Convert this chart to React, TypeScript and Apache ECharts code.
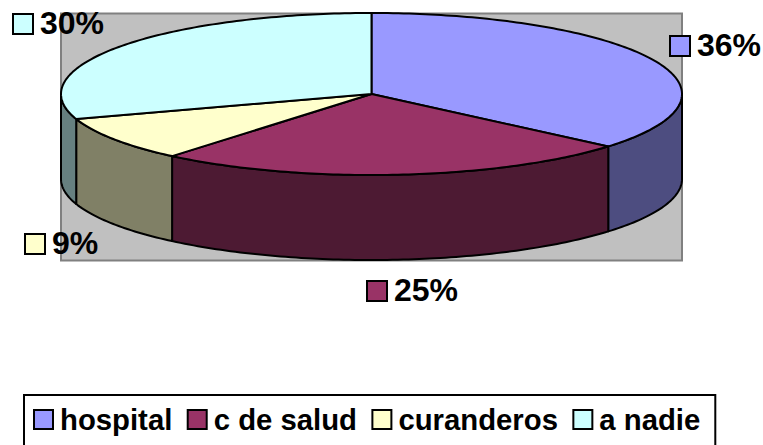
import React, { useEffect, useRef } from "react";
import * as echarts from "echarts";

const categories = ["hospital", "c de salud", "curanderos", "a nadie"];
const percentages = [36.2, 24.9, 8.9, 30];
const topColors = ["#9999FF", "#993366", "#FFFFCC", "#CCFFFF"];
const wallColors = ["#4D4D80", "#4D1A33", "#808066", "#668080"];
// Top-left corner of each slice's data-label marker.
const labelAnchors = [
  [670, 36],
  [367, 281],
  [25, 234],
  [13, 14],
];

const CX = 371.5;
const CY = 94;
const RX = 310.5;
const RY = 81;
const DEPTH = 85;
const FONT = '"Liberation Sans", Arial, sans-serif';
const total = percentages.reduce((a, b) => a + b, 0);

const rim = (deg: number, dy = 0): number[] => {
  const r = (deg * Math.PI) / 180;
  return [CX + RX * Math.sin(r), CY - RY * Math.cos(r) + dy];
};

const arc = (from: number, to: number, dy = 0): number[][] => {
  const steps = Math.max(2, Math.ceil(Math.abs(to - from)));
  const pts: number[][] = [];
  for (let i = 0; i <= steps; i++) pts.push(rim(from + ((to - from) * i) / steps, dy));
  return pts;
};

const outline = { stroke: "#000", lineWidth: 2, lineJoin: "round" };

const makeRenderItem = (index: number) => (_params: any, api: any) => {
  const before = percentages.slice(0, index).reduce((a, b) => a + b, 0);
  const start = (before / total) * 360;
  const end = start + (api.value(0) / total) * 360;
  const children: any[] = [];
  const wStart = Math.max(start, 90);
  const wEnd = Math.min(end, 270);
  if (wEnd > wStart) {
    children.push({
      type: "polygon",
      shape: { points: [...arc(wStart, wEnd), ...arc(wEnd, wStart, DEPTH)] },
      style: { fill: wallColors[index], ...outline },
    });
  }
  children.push({
    type: "polygon",
    shape: { points: [[CX, CY], ...arc(start, end)] },
    style: { fill: topColors[index], ...outline },
  });
  const [lx, ly] = labelAnchors[index];
  children.push({
    type: "rect",
    shape: { x: lx, y: ly, width: 20, height: 20 },
    style: { fill: topColors[index], stroke: "#000", lineWidth: 2 },
  });
  children.push({
    type: "text",
    style: {
      text: `${Math.round(api.value(0))}%`,
      x: lx + 27,
      y: ly + 9,
      fill: "#000",
      font: `bold 32px ${FONT}`,
      verticalAlign: "middle",
      align: "left",
    },
  });
  return { type: "group", children };
};

export default function App() {
  const ref = useRef<HTMLDivElement>(null);
  useEffect(() => {
    document.body.style.margin = "0";
    const chart = echarts.init(ref.current!, null, { renderer: "svg" });
    chart.setOption({
      animation: false,
      backgroundColor: "#fff",
      legend: {
        data: categories,
        left: 24,
        top: 395,
        orient: "horizontal",
        padding: [10, 15, 13, 9],
        itemGap: 14.4,
        itemWidth: 23,
        itemHeight: 19,
        icon: "path://M0 0H19V19H0Z",
        borderColor: "#000",
        borderWidth: 2,
        itemStyle: { borderColor: "#000", borderWidth: 2 },
        textStyle: { fontFamily: FONT, fontWeight: "bold", fontSize: 29.3, color: "#000" },
      },
      graphic: [
        {
          type: "rect",
          z: 0,
          shape: { x: 61, y: 13.5, width: 621, height: 247 },
          style: { fill: "#C0C0C0", stroke: "#808080", lineWidth: 2 },
        },
      ],
      series: categories.map((name, i) => ({
        type: "custom",
        name,
        coordinateSystem: "none",
        z: 5,
        itemStyle: { color: topColors[i] },
        data: [percentages[i]],
        renderItem: makeRenderItem(i),
      })),
    });
    return () => chart.dispose();
  }, []);
  return <div ref={ref} style={{ width: 763, height: 445 }} />;
}
